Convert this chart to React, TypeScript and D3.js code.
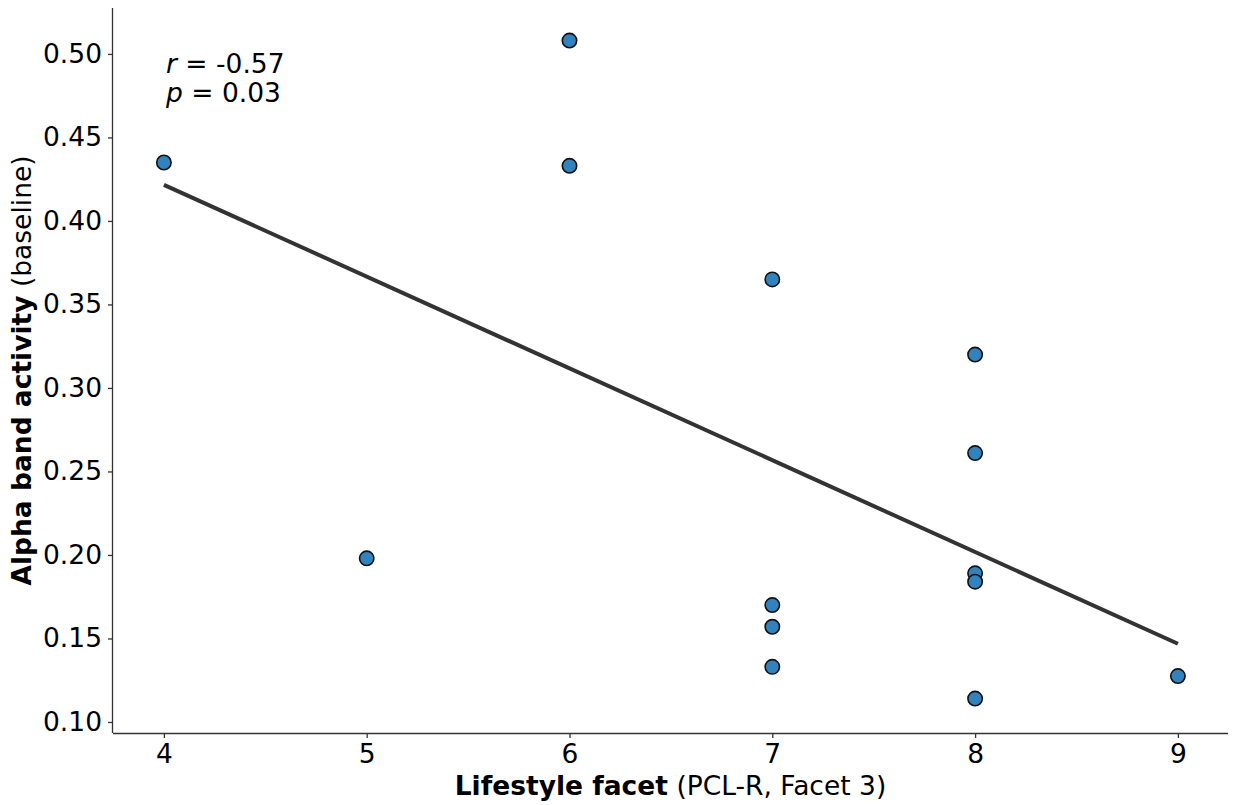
import React, { useEffect, useRef } from "react";
import * as d3 from "d3";

// facet scores and baseline alpha values
const facetScores = [4, 5, 6, 6, 7, 7, 7, 7, 8, 8, 8, 8, 8, 9];
const alphaValues = [
  0.435, 0.198, 0.508, 0.433, 0.365, 0.170, 0.157, 0.133, 0.320, 0.261, 0.189, 0.184, 0.114, 0.1275,
];
const xTicks = [4, 5, 6, 7, 8, 9];
const yTicks = [0.1, 0.15, 0.2, 0.25, 0.3, 0.35, 0.4, 0.45, 0.5];
const statsLines = [
  { sym: "r", text: " = -0.57" },
  { sym: "p", text: " = 0.03" },
];

const width = 1238;
const height = 805;
const margin = { top: 8, right: 10, bottom: 72, left: 113 };

const App = () => {
  const ref = useRef<SVGSVGElement>(null);

  useEffect(() => {
    const svg = d3.select(ref.current);
    svg.selectAll("*").remove();

    const x = d3
      .scaleLinear()
      .domain([3.749, 9.247])
      .range([margin.left, width - margin.right]);
    const y = d3
      .scaleLinear()
      .domain([0.0934, 0.5275])
      .range([height - margin.bottom, margin.top]);

    const font = "DejaVu Sans, sans-serif";
    const fs = "26.5px";

    // axes
    const xAxis = svg
      .append("g")
      .attr("transform", `translate(0,${height - margin.bottom})`)
      .call(d3.axisBottom(x).tickValues(xTicks).tickSize(5).tickPadding(6).tickFormat(d3.format("d")));
    const yAxis = svg
      .append("g")
      .attr("transform", `translate(${margin.left},0)`)
      .call(d3.axisLeft(y).tickValues(yTicks).tickSize(5).tickPadding(6).tickFormat(d3.format(".2f")));

    [xAxis, yAxis].forEach((g) => {
      g.selectAll(".domain").attr("stroke", "#333").attr("stroke-width", 1.3);
      g.selectAll(".tick line").attr("stroke", "#333").attr("stroke-width", 1.3);
      g.selectAll(".tick text")
        .attr("fill", "#000")
        .style("font-family", font)
        .style("font-size", fs);
    });
    // straight spines, no outer ticks
    xAxis.select(".domain").attr("d", `M${margin.left},0.5H${width - margin.right}`);
    yAxis.select(".domain").attr("d", `M-0.5,${margin.top}V${height - margin.bottom}`);

    // regression line (least squares)
    const n = facetScores.length;
    const mx = d3.mean(facetScores)!;
    const my = d3.mean(alphaValues)!;
    let sxy = 0;
    let sxx = 0;
    for (let i = 0; i < n; i++) {
      sxy += (facetScores[i] - mx) * (alphaValues[i] - my);
      sxx += (facetScores[i] - mx) ** 2;
    }
    const slope = sxy / sxx;
    const icpt = my - slope * mx;
    const xs = d3.extent(facetScores) as [number, number];
    const line = d3
      .line<number>()
      .x((d) => x(d))
      .y((d) => y(icpt + slope * d));
    svg
      .append("path")
      .datum(xs)
      .attr("d", line)
      .attr("fill", "none")
      .attr("stroke", "#333")
      .attr("stroke-width", 4);

    // points
    svg
      .append("g")
      .selectAll("circle")
      .data(facetScores.map((f, i) => ({ f, a: alphaValues[i] })))
      .enter()
      .append("circle")
      .attr("cx", (d) => x(d.f))
      .attr("cy", (d) => y(d.a))
      .attr("r", 7.2)
      .attr("fill", "#3182bd")
      .attr("stroke", "#111")
      .attr("stroke-width", 1.6);

    // stats annotation
    statsLines.forEach((s, i) => {
      const t = svg
        .append("text")
        .attr("x", 166)
        .attr("y", 73 + i * 29)
        .style("font-family", font)
        .style("font-size", fs)
        .attr("fill", "#000");
      t.append("tspan").style("font-style", "italic").text(s.sym);
      t.append("tspan").text(s.text);
    });

    // axis labels
    const xl = svg
      .append("text")
      .attr("x", (margin.left + width - margin.right) / 2)
      .attr("y", 795)
      .attr("text-anchor", "middle")
      .style("font-family", font)
      .style("font-size", fs);
    xl.append("tspan").style("font-weight", "bold").text("Lifestyle facet");
    xl.append("tspan").text(" (PCL-R, Facet 3)");

    const yl = svg
      .append("text")
      .attr("transform", `translate(31,${(margin.top + height - margin.bottom) / 2}) rotate(-90)`)
      .attr("text-anchor", "middle")
      .style("font-family", font)
      .style("font-size", fs);
    yl.append("tspan").style("font-weight", "bold").text("Alpha band activity");
    yl.append("tspan").text(" (baseline)");
  }, []);

  return (
    <svg
      ref={ref}
      width={width}
      height={height}
      style={{ position: "absolute", left: 0, top: 0, background: "#fff" }}
    />
  );
};

export default App;
